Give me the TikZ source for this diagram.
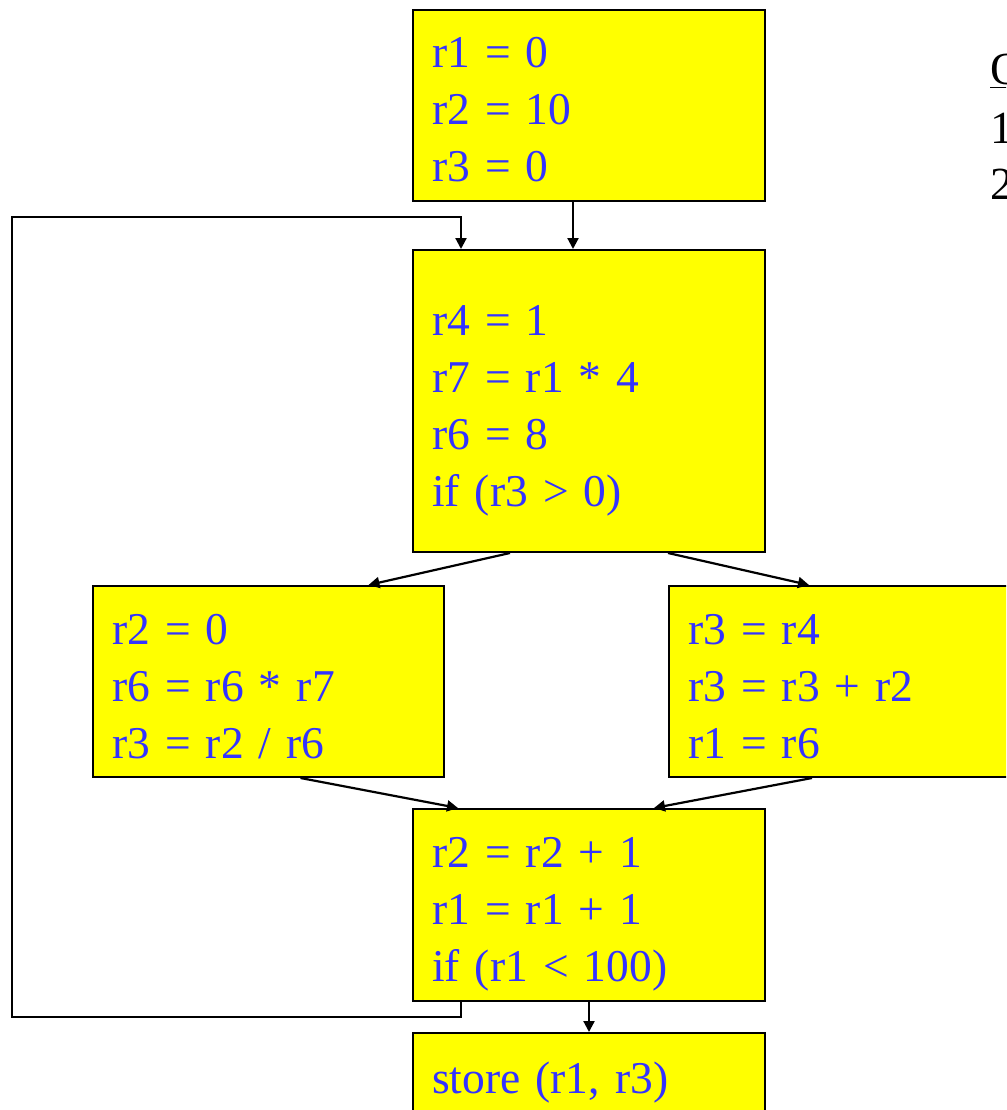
\documentclass[tikz,border=0pt]{standalone}
\usepackage{fontspec}
\setmainfont{Liberation Serif}
\usetikzlibrary{arrows.meta}
\definecolor{boxfill}{RGB}{255,255,0}
\definecolor{codeblue}{RGB}{51,51,255}
\newcommand\tophgt{\rule{0pt}{49pt}}
\newcommand\botdep{\rule[-10pt]{0pt}{10pt}}
\begin{document}
\begin{tikzpicture}[x=1pt,y=-1pt,
  block/.style={draw=black, line width=2pt, fill=boxfill, text=codeblue,
    font=\fontsize{45.5}{57}\selectfont, align=left, anchor=north west,
    inner xsep=19pt, inner ysep=0pt},
  flow/.style={-{Triangle[length=11pt,width=11pt]}, line width=2.2pt, draw=black},
  side/.style={font=\fontsize{46}{57}\selectfont, text=black, anchor=base west, inner sep=0pt}]
\useasboundingbox (0,0) rectangle (1006,1110);
\clip (0,0) rectangle (1006,1110);

\node[block, minimum width=352pt, text width=314pt, minimum height=191pt] (b0) at (412,9)
  {\tophgt r1 = 0\\r2 = 10\\r3 = 0\botdep};
\node[block, minimum width=352pt, text width=314pt, minimum height=302pt] (b1) at (412,249)
  {\tophgt r4 = 1\\r7 = r1 * 4\\r6 = 8\\if (r3 {\char`>} 0)\botdep};
\node[block, minimum width=351pt, text width=313pt, minimum height=191pt] (b2) at (92,585)
  {\tophgt r2 = 0\\r6 = r6 * r7\\r3 = r2 / r6\botdep};
\node[block, minimum width=360pt, text width=322pt, minimum height=191pt] (b3) at (668,585)
  {\tophgt r3 = r4\\r3 = r3 + r2\\r1 = r6\botdep};
\node[block, minimum width=352pt, text width=314pt, minimum height=192pt] (b4) at (412,808)
  {\tophgt r2 = r2 + 1\\r1 = r1 + 1\\if (r1 {\char`<} 100)\botdep};
\node[block, minimum width=352pt, text width=314pt, minimum height=81pt] (b5) at (412,1032)
  {\tophgt store (r1, r3)\botdep};

\node[side] (t0) at (990,85) {\underline{O}};
\node[side] (t1) at (990,144) {1};
\node[side] (t2) at (990,199) {2};

\coordinate (lpA) at (12,1017);
\coordinate (lpB) at (12,217);

\draw[flow] ([xshift=-16pt]b0.south) -- ([xshift=-16pt]b1.north);
\draw[flow] ([xshift=-79pt]b1.south) -- ([xshift=100pt]b2.north);
\draw[flow] ([xshift=79pt]b1.south) -- ([xshift=141pt]b3.north west);
\draw[flow] ([xshift=32pt]b2.south) -- ([xshift=-131pt]b4.north);
\draw[flow] ([xshift=144pt]b3.south west) -- ([xshift=65pt]b4.north);
\draw[flow] (b4.south) -- (b5.north);
\draw[flow] ([xshift=-128pt]b4.south) |- (lpA) -- (lpB) -| ([xshift=-128pt]b1.north);
\end{tikzpicture}
\end{document}
